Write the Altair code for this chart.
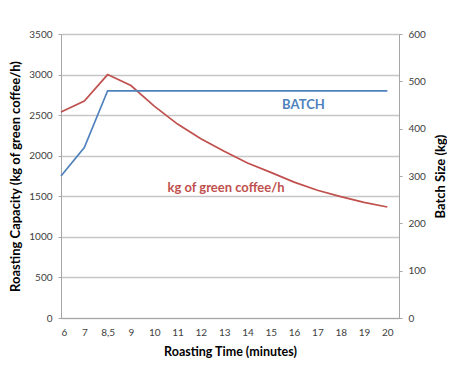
import altair as alt
import pandas as pd

times = ["6", "7", "8,5", "9", "10", "11", "12", "13", "14", "15", "16", "17", "18", "19", "20"]
capacity = [2540, 2675, 3000, 2865, 2610, 2390, 2210, 2055, 1910, 1795, 1675, 1575, 1495, 1425, 1368]
batch = [300, 360, 480, 480, 480, 480, 480, 480, 480, 480, 480, 480, 480, 480, 480]

FONT = "Lato"
RED = "#c0504d"
BLUE = "#4f81bd"
GRID = "#c6c6c6"
AXIS = "#a6a6a6"

df = pd.DataFrame({"idx": list(range(len(times))), "time": times,
                   "capacity": capacity, "batch": batch})

label_expr = "[" + ",".join("'" + t + "'" for t in times) + "][datum.value]"

x_enc = alt.X("idx:Q",
              scale=alt.Scale(domain=[0, 14.5], nice=False, zero=False),
              axis=alt.Axis(values=list(range(len(times))), labelExpr=label_expr,
                            labelOverlap=False, labelSeparation=0, tickCount=15,
                            title="Roasting Time (minutes)", grid=False, ticks=False,
                            domainColor=AXIS, labelPadding=9, titlePadding=8,
                            labelFont=FONT, labelFontSize=10, labelColor="#404040",
                            titleFont=FONT, titleFontSize=12.5, titleFontWeight="bold",
                            titleColor="#000000"))

red_line = alt.Chart(df).mark_line(color=RED, strokeWidth=1.7).encode(
    x=x_enc,
    y=alt.Y("capacity:Q",
            scale=alt.Scale(domain=[0, 3500], nice=False),
            axis=alt.Axis(values=list(range(0, 3501, 500)), format="d",
                          title="Roasting Capacity (kg of green coffee/h)",
                          grid=True, gridColor=GRID, gridWidth=1.3,
                          domainColor=AXIS, tickColor=AXIS, tickSize=3,
                          labelPadding=6, titlePadding=6,
                          labelFont=FONT, labelFontSize=10, labelColor="#404040",
                          titleFont=FONT, titleFontSize=13, titleFontWeight="bold",
                          titleColor="#000000"))
)

red_label_df = pd.DataFrame({"idx": [7.08], "capacity": [1600], "text": ["kg of green coffee/h"]})
red_text = alt.Chart(red_label_df).mark_text(
    color=RED, font=FONT, fontSize=13, fontWeight="bold", baseline="middle", align="center"
).encode(x="idx:Q", y="capacity:Q", text="text:N")

blue_line = alt.Chart(df).mark_line(color=BLUE, strokeWidth=1.7).encode(
    x=x_enc,
    y=alt.Y("batch:Q",
            scale=alt.Scale(domain=[0, 600], nice=False),
            axis=alt.Axis(orient="right", values=list(range(0, 601, 100)), format="d",
                          title="Batch Size (kg)", titleAngle=270,
                          titleBaseline="bottom",
                          grid=False, domainColor=AXIS, tickColor=AXIS, tickSize=3,
                          labelPadding=6, titlePadding=22,
                          labelFont=FONT, labelFontSize=10, labelColor="#404040",
                          titleFont=FONT, titleFontSize=13, titleFontWeight="bold",
                          titleColor="#000000"))
)

blue_label_df = pd.DataFrame({"idx": [10.4], "batch": [450], "text": ["BATCH"]})
blue_text = alt.Chart(blue_label_df).mark_text(
    color=BLUE, font=FONT, fontSize=13, fontWeight="bold", baseline="middle", align="center"
).encode(x="idx:Q", y="batch:Q", text="text:N")

left_layer = alt.layer(red_line, red_text)
right_layer = alt.layer(blue_line, blue_text)

chart = alt.layer(left_layer, right_layer).resolve_scale(y="independent").properties(
    width=338, height=284,
    autosize=alt.AutoSizeParams(type="none"),
    padding={"left": 53, "top": 26, "right": 48, "bottom": 43},
).configure_view(stroke=None).configure(background="white").configure_axisX(
    labelOverlap=False
)

chart.save("out.html", embed_options={"renderer": "svg", "actions": False})
